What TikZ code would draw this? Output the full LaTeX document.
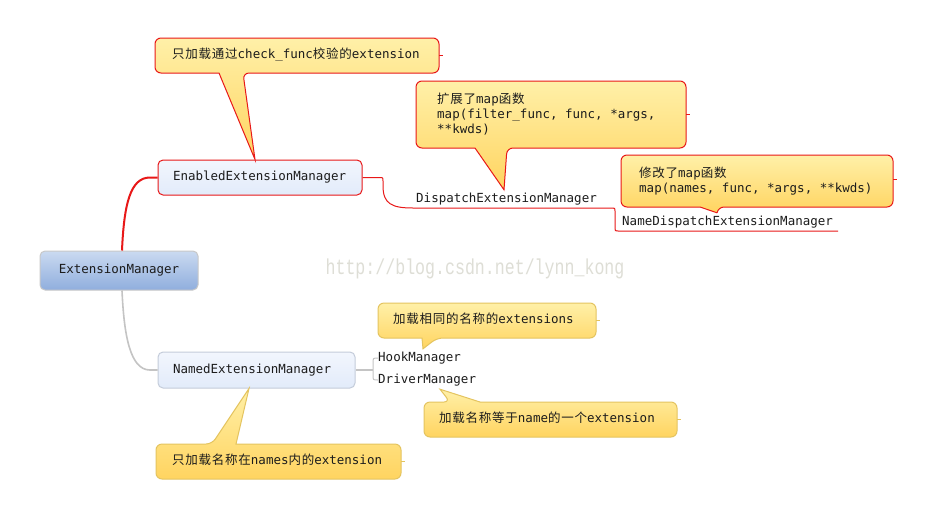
\documentclass[tikz,border=0pt]{standalone}
\usepackage{fontspec}
\setmonofont{DejaVu Sans Mono}
\newfontfamily\cjk[LetterSpace=6]{Noto Sans CJK SC}
\newfontfamily\wmfont{Liberation Mono}
\usetikzlibrary{calc}
\definecolor{bred}{RGB}{232,24,24}
\definecolor{gold}{RGB}{228,196,96}
\definecolor{ytop}{RGB}{255,240,168}
\definecolor{ybot}{RGB}{255,212,96}
\definecolor{ltop}{RGB}{242,246,253}
\definecolor{lbot}{RGB}{226,235,250}
\definecolor{btop}{RGB}{202,218,241}
\definecolor{bbot}{RGB}{144,174,221}
\definecolor{ngray}{RGB}{196,204,218}
\definecolor{lgray}{RGB}{200,200,200}
\definecolor{conngray}{RGB}{196,196,196}
\definecolor{ink}{RGB}{28,28,28}
\definecolor{wm}{RGB}{222,222,214}
\newcommand\bubbledown[8]{%
  \path[#1, rounded corners=6] ({(#2+#4)/2},#3) -- (#4,#3) -- (#4,#5) -- (#7,#5)
    [sharp corners] -- (#8) -- (#6,#5) -- ({#6-1},#5)
    [rounded corners=6] -- (#2,#5) -- (#2,#3) -- cycle;}
\newcommand\bubbleup[8]{%
  \path[#1, rounded corners=6] ({(#2+#4)/2},#5) -- (#2,#5) -- (#2,#3) -- (#6,#3)
    [sharp corners] -- (#8) -- (#7,#3) -- ({#7+1},#3)
    [rounded corners=6] -- (#4,#3) -- (#4,#5) -- cycle;}
\tikzset{
  txt/.style={font=\fontsize{12.5}{15}\selectfont\ttfamily, text=ink},
  oneline/.style={txt, inner sep=0, text height=9.5, text depth=3, anchor=west},
  multiline/.style={txt, inner sep=0, align=left, anchor=west},
  mgr/.style={txt, rounded corners=5, minimum height=35, inner ysep=0, line width=1},
  redbub/.style={draw=bred, line width=1, top color=ytop, bottom color=ybot},
  goldbub/.style={draw=gold, line width=1, top color=ytop, bottom color=ybot},
  redline/.style={draw=bred, line width=2},
  redthin/.style={draw=bred, line width=1},
  grayline/.style={draw=conngray, line width=1.6},
  graythin/.style={draw=conngray, line width=1},
}
\begin{document}
\begin{tikzpicture}[x=1pt, y=-1pt]
\useasboundingbox (0,0) rectangle (933,517);
\fill[white] (0,0) rectangle (933,517);

% watermark
\node[font=\wmfont\fontsize{16.6}{18}\selectfont, text=wm, yscale=1.3, transform shape, inner sep=0] (wmark) at (475,269) {http://blog.csdn.net/lynn\_kong};

% manager nodes
\node[mgr, draw=bred, top color=ltop, bottom color=lbot, minimum width=204, text width=174, align=left, inner xsep=15] (enabled) at (260,177.5) {EnabledExtensionManager};
\node[mgr, draw=lgray, top color=btop, bottom color=bbot, minimum width=158, minimum height=39] (root) at (119,270.5) {ExtensionManager};
\node[mgr, draw=ngray, top color=ltop, bottom color=lbot, minimum width=197, minimum height=36, text width=167, align=left, inner xsep=15] (named) at (256.5,370) {NamedExtensionManager};

% leaf texts
\node[oneline] (dispatch) at (416,199) {DispatchExtensionManager};
\node[oneline] (namedisp) at (622,222) {NameDispatchExtensionManager};
\node[oneline] (hook) at (378,358) {HookManager};
\node[oneline] (driver) at (378,380) {DriverManager};

% connectors
\draw[redline] ($(root.north)+(3,0)$) .. controls (124,205) and (130,177.5) .. (150,177.5) -- (enabled.west);
\draw[grayline] ($(root.south)+(3,0)$) .. controls (124,335) and (130,370) .. (150,370) -- (named.west);
\coordinate (dEnd) at ($(namedisp.south east)+(5,2.75)$);
\draw[redthin] (enabled.east) -- (379,177.5) .. controls (383,177.5) .. (383,181)
  -- (383,186) .. controls (383,204) and (392,208) .. (413,208)
  -- (612,208) .. controls (615,208) .. (615,211) -- (615,228)
  .. controls (615,231) .. (618,231) -- (dEnd);
\draw[grayline] (named.east) -- (373,370);
\draw[graythin] (hook.west) .. controls (373,358) .. (373,363) -- (373,375) .. controls (373,380) .. (driver.west);

% tips
\coordinate (tipA) at ($(enabled.north)+(-5,0)$);
\coordinate (tipB) at ($(named.south)+(-7.5,0)$);
\coordinate (tipC) at ($(hook.north west)+(45,-2.75)$);
\coordinate (tipD) at ($(driver.south west)+(62,2.75)$);
\coordinate (tipE) at ($(dispatch.north west)+(88,-2.75)$);
\coordinate (tipF) at ($(namedisp.north west)+(95,-2.75)$);

% callouts
\bubbledown{redbub}{155}{38}{439}{73}{219}{243}{tipA}
\draw[redthin] (439,55.5) -- ++(4,0);
\node[oneline] (calA) at (172,55.5) {{\cjk 只加载通过}check\_func{\cjk 校验的}extension};

\bubbledown{redbub}{416}{81}{686}{148}{475}{507}{tipE}
\draw[redthin] (686,114.5) -- ++(4,0);
\node[multiline] (calE) at (437,114) {{\cjk 扩展了}map{\cjk 函数}\\map(filter\_func, func, *args,\\**kwds)};

\bubbledown{redbub}{621}{155}{893}{207}{700}{718}{tipF}
\draw[redthin] (893,179) -- ++(4,0);
\node[multiline] (calF) at (639,181.5) {{\cjk 修改了}map{\cjk 函数}\\map(names, func, *args, **kwds)};

\bubbledown{goldbub}{378}{303}{596}{338}{422}{437}{tipC}
\draw[draw=gold, line width=1] (596,320.5) -- ++(4,0);
\node[oneline] (calC) at (393,320.5) {{\cjk 加载相同的名称的}extensions};

\bubbleup{goldbub}{424}{402}{677}{437}{450}{480}{tipD}
\draw[draw=gold, line width=1] (677,419.5) -- ++(4,0);
\node[oneline] (calD) at (439,419.5) {{\cjk 加载名称等于}name{\cjk 的一个}extension};

\bubbleup{goldbub}{156}{444}{401}{479}{212}{236}{tipB}
\draw[draw=gold, line width=1] (401,461.5) -- ++(4,0);
\node[oneline] (calB) at (172,461.5) {{\cjk 只加载名称在}names{\cjk 内的}extension};
\end{tikzpicture}
\end{document}
